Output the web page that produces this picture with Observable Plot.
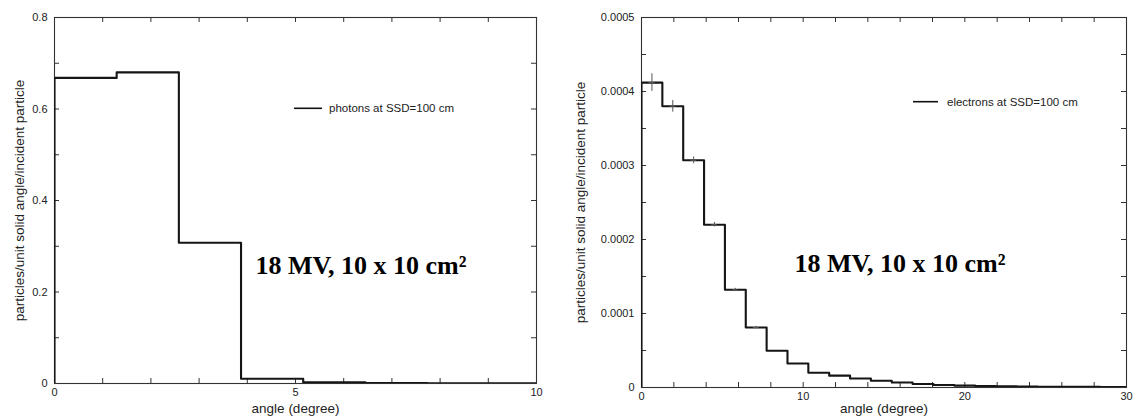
<!DOCTYPE html>
<html>
<head>
<meta charset="utf-8">
<script src="https://cdn.jsdelivr.net/npm/d3@7"></script>
<script src="https://cdn.jsdelivr.net/npm/@observablehq/plot@0.6"></script>
<style>
  html, body { margin: 0; padding: 0; background: #fff; }
  #wrap { position: relative; width: 1135px; height: 418px; overflow: hidden; }
  #wrap > svg { position: absolute; top: 0; }
</style>
</head>
<body>
<div id="wrap"></div>
<script>
// Angular distributions at SSD = 100 cm, 18 MV, 10 x 10 cm² field.
// Histogram bin edges (degrees) and per-bin values (particles / unit solid angle / incident particle).
const photonEdges = [0, 1.29, 2.58, 3.87, 5.16, 6.45, 7.74, 9.03, 10.32];
const photonValues = [0.668, 0.680, 0.3075, 0.0103, 0.0025, 0.0012, 0.0006, 0.0003];

const electronEdges = [0, 1.29, 2.58, 3.87, 5.16, 6.45, 7.74, 9.03, 10.32, 11.61, 12.9, 14.19,
  15.48, 16.77, 18.06, 19.35, 20.64, 21.93, 23.22, 24.51, 25.8, 27.09, 28.38, 29.67, 30.96];
const electronValues = [0.000412, 0.000380, 0.000307, 0.000220, 0.000132, 0.000081, 0.0000496,
  0.0000325, 0.0000200, 0.0000160, 0.0000122, 0.0000092, 0.0000068, 0.0000048, 0.0000034,
  0.0000026, 0.0000020, 0.0000016, 0.0000013, 0.0000011, 0.0000009, 0.0000008, 0.0000007, 0.0000006];
// statistical uncertainty on the first electron bins
const electronErrors = [0.000012, 0.0000079, 0.0000045, 0.000003, 0.000002, 0.0000015];

const photonXTicks = [0, 5, 10];
const photonXMinor = d3.range(0, 11, 1);
const photonYTicks = [0, 0.2, 0.4, 0.6, 0.8];
const photonYMinor = d3.range(0, 0.81, 0.1);

const electronXTicks = [0, 10, 20, 30];
const electronXMinor = d3.range(0, 31, 2);
const electronYTicks = [0, 0.0001, 0.0002, 0.0003, 0.0004, 0.0005];
const electronYMinor = d3.range(0, 0.00051, 0.00005);

const yTitle = "particles/unit solid angle/incident particle";
const xTitle = "angle (degree)";
const annotation = "18 MV, 10 x 10 cm²";

// Outline of a histogram as a step-after polyline starting from the baseline.
function stepPoints(edges, values) {
  const pts = [{x: edges[0], y: 0}];
  values.forEach((v, i) => pts.push({x: edges[i], y: v}));
  pts.push({x: edges[values.length], y: values[values.length - 1]});
  return pts;
}

// Legend: a short line swatch followed by its label, placed relative to the frame.
function legendMark(label, dx, dy, len, gap) {
  return (index, scales, values, dims) => {
    const g = d3.create("svg:g");
    const x0 = dims.marginLeft + dx, y0 = dims.marginTop + dy;
    g.append("line").attr("x1", x0).attr("x2", x0 + len).attr("y1", y0).attr("y2", y0)
      .attr("stroke", "#111").attr("stroke-width", 1.6);
    g.append("text").attr("x", x0 + gap).attr("y", y0).attr("dy", "0.35em")
      .attr("text-anchor", "start")
      .attr("font-family", "'Liberation Sans', Arial, sans-serif").attr("font-size", 11.5)
      .attr("fill", "#222").text(label);
    return g.node();
  };
}

function panel(cfg) {
  const frameH = cfg.height - cfg.marginTop - cfg.marginBottom;
  const frameW = cfg.width - cfg.marginLeft - cfg.marginRight;
  const tick = 5;
  const errs = (cfg.errors || []).map((e, i) => ({
    x: (cfg.edges[i] + cfg.edges[i + 1]) / 2, v: cfg.values[i], e
  }));
  return Plot.plot({
    width: cfg.width, height: cfg.height,
    marginLeft: cfg.marginLeft, marginRight: cfg.marginRight,
    marginTop: cfg.marginTop, marginBottom: cfg.marginBottom,
    style: {fontFamily: "'Liberation Sans', Arial, sans-serif", fontSize: "11px", color: "#222", background: "transparent"},
    x: {type: "linear", domain: cfg.xDomain},
    y: {type: "linear", domain: cfg.yDomain},
    marks: [
      // inward minor/major tick marks on all four sides
      Plot.tickX(cfg.xMinor, {x: d => d, insetTop: frameH - tick, stroke: "#333", strokeWidth: 1}),
      Plot.tickX(cfg.xMinor, {x: d => d, insetBottom: frameH - tick, stroke: "#333", strokeWidth: 1}),
      Plot.tickY(cfg.yMinor, {y: d => d, insetRight: frameW - tick, stroke: "#333", strokeWidth: 1}),
      Plot.tickY(cfg.yMinor, {y: d => d, insetLeft: frameW - tick, stroke: "#333", strokeWidth: 1}),
      Plot.frame({stroke: "#333", strokeWidth: 1.1}),
      Plot.axisX(cfg.xTicks, {tickSize: 0, tickPadding: 5, tickFormat: d => String(d), label: null, fontSize: 11}),
      Plot.axisY(cfg.yTicks, {tickSize: 0, tickPadding: 7, tickFormat: cfg.yFormat, label: null, fontSize: 11}),
      Plot.line(stepPoints(cfg.edges, cfg.values), {x: "x", y: "y", curve: "step-after", stroke: "#151515", strokeWidth: 2.1, clip: true}),
      // error crosses at the bin centres
      Plot.ruleX(errs, {x: "x", y1: d => d.v - d.e, y2: d => d.v + d.e, stroke: "#555", strokeWidth: 1}),
      Plot.ruleY(errs, {y: "v", x1: d => d.x - 0.18, x2: d => d.x + 0.18, stroke: "#555", strokeWidth: 1}),
      Plot.text([xTitle], {frameAnchor: "bottom", text: d => d, lineAnchor: "middle", textAnchor: "middle",
        dy: cfg.xTitleDy, fontSize: 13.5, fill: "#222"}),
      Plot.text([yTitle], {frameAnchor: "left", text: d => d, rotate: -90, textAnchor: "middle", lineAnchor: "middle",
        dx: cfg.yTitleDx, fontSize: 13.5, fill: "#222"}),
      Plot.text([annotation], {frameAnchor: "top-left", text: d => d, textAnchor: "start", lineAnchor: "bottom",
        dx: cfg.noteDx, dy: cfg.noteDy, fontFamily: "'Liberation Serif', 'Times New Roman', serif",
        fontWeight: "bold", fontSize: 26, fill: "#000"}),
      legendMark(cfg.legend, cfg.legDx, cfg.legDy, cfg.legLen, cfg.legGap)
    ]
  });
}

const left = panel({
  width: 560, height: 418, marginLeft: 54, marginRight: 24, marginTop: 17, marginBottom: 35,
  xDomain: [0, 10], yDomain: [0, 0.8],
  xTicks: photonXTicks, xMinor: photonXMinor, yTicks: photonYTicks, yMinor: photonYMinor,
  yFormat: d => d === 0 ? "0" : d3.format(".1f")(d),
  edges: photonEdges, values: photonValues,
  xTitleDy: 25, yTitleDx: -35, noteDx: 201, noteDy: 256,
  legend: "photons at SSD=100 cm", legDx: 240, legDy: 91.3, legLen: 28, legGap: 35
});

const right = panel({
  width: 565, height: 418, marginLeft: 71, marginRight: 9, marginTop: 17, marginBottom: 31,
  xDomain: [0, 30], yDomain: [0, 0.0005],
  xTicks: electronXTicks, xMinor: electronXMinor, yTicks: electronYTicks, yMinor: electronYMinor,
  yFormat: d => d === 0 ? "0" : d3.format(".4f")(d),
  edges: electronEdges, values: electronValues, errors: electronErrors,
  xTitleDy: 21, yTitleDx: -61, noteDx: 153, noteDy: 254,
  legend: "electrons at SSD=100 cm", legDx: 272, legDy: 84.7, legLen: 25, legGap: 34
});

left.style.left = "0px";
right.style.left = "570px";
const wrap = document.getElementById("wrap");
wrap.append(left, right);
</script>
</body>
</html>
